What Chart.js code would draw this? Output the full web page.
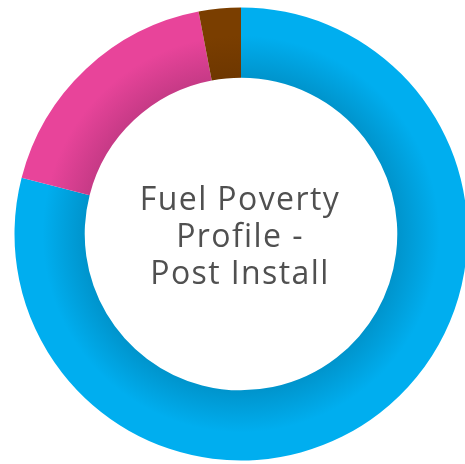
<!DOCTYPE html>
<html>
<head>
<meta charset="utf-8">
<script src="https://cdn.jsdelivr.net/npm/chart.js@4/dist/chart.umd.min.js"></script>
<style>
  html, body { margin: 0; padding: 0; background: #fff; overflow: hidden; width: 465px; height: 464px; }
  #wrap { position: relative; width: 482px; height: 464px; }
  #title {
    position: absolute; left: 90px; top: 134px; width: 300px; height: 200px;
    display: flex; align-items: center; justify-content: center; text-align: center;
    font-family: "Open Sans", sans-serif; font-size: 32px; letter-spacing: 1.4px; line-height: 37px; color: #505050;
  }
</style>
</head>
<body>
<div id="wrap">
  <canvas id="c"></canvas>
  <div id="title">Fuel Poverty<br>Profile -<br>Post Install</div>
</div>
<script>
const categories = ["Not in fuel poverty", "Fuel poverty", "Extreme fuel poverty"];
const values = [79, 18, 3];
const edgeColors = ["#00aeef", "#e8449a", "#7a3e00"];
const innerColors = ["#0094cc", "#c63a86", "#6e3700"];
const cutoutRatio = 0.69;

function ringGradient(ctx) {
  const chart = ctx.chart;
  const area = chart.chartArea;
  const i = ctx.dataIndex;
  if (!area) return edgeColors[i];
  const cx = (area.left + area.right) / 2;
  const cy = (area.top + area.bottom) / 2;
  const outer = Math.min(area.right - area.left, area.bottom - area.top) / 2;
  const inner = outer * cutoutRatio;
  const g = chart.ctx.createRadialGradient(cx, cy, inner, cx, cy, outer);
  g.addColorStop(0, innerColors[i]);
  g.addColorStop(0.6, edgeColors[i]);
  g.addColorStop(1, edgeColors[i]);
  return g;
}

new Chart(document.getElementById("c"), {
  type: "doughnut",
  data: {
    labels: categories,
    datasets: [{ data: values, backgroundColor: ringGradient, borderWidth: 0 }]
  },
  options: {
    responsive: true,
    maintainAspectRatio: false,
    animation: false,
    cutout: (cutoutRatio * 100) + "%",
    layout: { padding: { left: 14.5, right: 14.5, top: 7.5, bottom: 3.5 } },
    plugins: { legend: { display: false }, tooltip: { enabled: false } }
  }
});
</script>
</body>
</html>
